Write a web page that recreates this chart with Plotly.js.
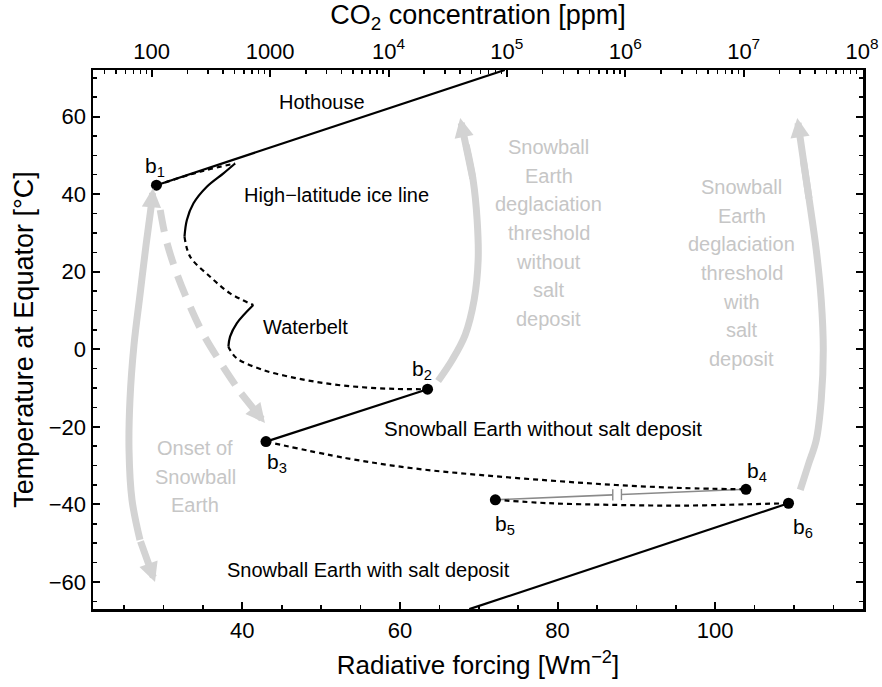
<!DOCTYPE html>
<html>
<head>
<meta charset="utf-8">
<script src="https://cdn.plot.ly/plotly-3.0.1.min.js"></script>
<style>html,body{margin:0;padding:0;background:#fff}</style>
</head>
<body>
<div id="chart" style="width:882px;height:687px"></div>
<script>
// ---- Data (radiative forcing [W m^-2], temperature at equator [°C]) ----
const hothouseF = [29.1, 73.3];
const hothouseT = [42.3, 72.0];

const iceUnstableF1 = [29.1, 34.65, 39.08];
const iceUnstableT1 = [42.3, 45.8, 47.9];

const iceLineF = [39.08, 37.6, 35.49, 33.8, 32.96, 32.66];
const iceLineT = [47.9, 45.36, 41.91, 37.63, 33.32, 29.02];

const iceUnstableF2 = [32.66, 33.38, 35.91, 38.44, 41.39];
const iceUnstableT2 = [29.02, 23.87, 18.71, 14.43, 11.42];

const waterbeltF = [41.39, 39.29, 38.44, 38.23];
const waterbeltT = [11.42, 6.70, 3.25, 0.67];

const waterbeltUnstableF = [38.23, 38.44, 39.29, 42.62, 46.89, 51.10, 55.28, 59.54, 63.5];
const waterbeltUnstableT = [0.67, -0.18, -2.32, -5.33, -7.47, -8.94, -9.79, -10.23, -10.3];

const snowballF = [43.0, 63.5];
const snowballT = [-23.8, -10.3];

const snowballUnstableF = [43.0, 53.22, 61.61, 70.09, 78.95, 87.39, 95.82, 103.9];
const snowballUnstableT = [-23.8, -28.09, -30.67, -32.40, -33.83, -34.99, -35.77, -36.1];

const saltUnstableF = [72.1, 78.95, 87.39, 95.82, 104.27, 109.3];
const saltUnstableT = [-38.8, -39.69, -40.13, -40.31, -39.95, -39.7];

const saltF = [109.3, 68.8];
const saltT = [-39.7, -67.0];

// bifurcation points b1..b6
const bNames = ['b<sub>1</sub>', 'b<sub>2</sub>', 'b<sub>3</sub>', 'b<sub>4</sub>', 'b<sub>5</sub>', 'b<sub>6</sub>'];
const bF = [29.1, 63.5, 43.0, 103.9, 72.1, 109.3];
const bT = [42.3, -10.3, -23.8, -36.1, -38.8, -39.7];

// grey connector b5 -> b4 with an axis-break mark
const greyF1 = [72.1, 87.0];
const greyT1 = [-38.8, -37.53];
const greyF2 = [88.1, 103.9];
const greyT2 = [-37.44, -36.1];
const breakF = [87.0, 87.0, null, 88.1, 88.1];
const breakT = [-36.1, -39.0, null, -36.0, -38.9];

// grey arrows (paths; tips given separately)
const onsetF = [28.54, 27.78, 27.01, 26.25, 25.74, 25.62, 26.00, 27.01];
const onsetT = [38.48, 26.88, 13.99, 1.11, -13.06, -25.95, -38.84, -49.15];
const onsetTipF = [28.66, 28.92];   // [top tip, bottom tip]
const onsetTipT = [41.57, -59.97];

const coolF = [29.58, 30.34, 31.61, 33.13, 34.90, 37.18, 39.71];
const coolT = [35.90, 28.17, 19.92, 12.19, 4.46, -3.27, -11.01];
const coolTip = [42.87, -19.0];

const deglacF = [64.84, 66.62, 68.27, 69.41, 69.92, 69.79, 69.28, 68.40];
const deglacT = [-8.16, -2.76, 3.69, 12.71, 23.02, 33.32, 43.63, 52.65];
const deglacTip = [67.64, 59.61];

const deglacSaltF = [110.79, 111.80, 112.82, 113.45, 113.71, 113.45, 112.82, 111.93, 111.17];
const deglacSaltT = [-36.26, -29.82, -23.38, -13.07, -0.18, 12.71, 25.59, 38.48, 48.79];
const deglacSaltTip = [110.41, 59.61];

// axis ticks
const xTicks = [40, 60, 80, 100];
const yTicks = [-60, -40, -20, 0, 20, 40, 60];
const co2Ticks = [1e2, 1e3, 1e4, 1e5, 1e6, 1e7, 1e8];
const co2Labels = ['100', '1000', '10<sup>4</sup>', '10<sup>5</sup>', '10<sup>6</sup>', '10<sup>7</sup>', '10<sup>8</sup>'];

// text labels
const grey1Lines = ['Snowball', 'Earth', 'deglaciation', 'threshold', 'without', 'salt', 'deposit'];
const grey2Lines = ['Snowball', 'Earth', 'deglaciation', 'threshold', 'with', 'salt', 'deposit'];
const grey3Lines = ['Onset of', 'Snowball', 'Earth'];

// ---- Styles ----
const BLACK = '#000000';
const ARROWGREY = '#d3d3d3';
const TEXTGREY = '#c6c6c6';
const FONT = 'Liberation Sans, Arial, Helvetica, sans-serif';

function line(x, y, opt) {
  return Object.assign({type: 'scatter', mode: 'lines', x: x, y: y, hoverinfo: 'skip',
    line: {color: BLACK, width: 2.2}}, opt || {});
}
const solid = {color: BLACK, width: 2.2};
const dashed = {color: BLACK, width: 2.2, dash: '5px,4px'};
const greyArrowLine = {color: ARROWGREY, width: 7, shape: 'spline'};
const sp = (o) => Object.assign({shape: 'spline'}, o);

const minorVals = [];
for (let e = 1; e < 8; e++) for (let d = 2; d <= 9; d++) minorVals.push(d * Math.pow(10, e));

const traces = [
  line(onsetF, onsetT, {line: greyArrowLine}),
  line(coolF, coolT, {line: {color: ARROWGREY, width: 7, dash: '22px,12px', shape: 'spline'}}),
  line(deglacF, deglacT, {line: greyArrowLine}),
  line(deglacSaltF, deglacSaltT, {line: greyArrowLine}),
  line(greyF1, greyT1, {line: {color: '#8a8a8a', width: 1.6}}),
  line(greyF2, greyT2, {line: {color: '#8a8a8a', width: 1.6}}),
  line(breakF, breakT, {line: {color: '#8a8a8a', width: 1.4}}),
  line(hothouseF, hothouseT, {line: solid}),
  line(iceUnstableF1, iceUnstableT1, {line: sp(dashed)}),
  line(iceLineF, iceLineT, {line: sp(solid)}),
  line(iceUnstableF2, iceUnstableT2, {line: sp(dashed)}),
  line(waterbeltF, waterbeltT, {line: sp(solid)}),
  line(waterbeltUnstableF, waterbeltUnstableT, {line: sp(dashed)}),
  line(snowballF, snowballT, {line: solid}),
  line(snowballUnstableF, snowballUnstableT, {line: sp(dashed)}),
  line(saltUnstableF, saltUnstableT, {line: sp(dashed)}),
  line(saltF, saltT, {line: solid}),
  {type: 'scatter', mode: 'markers', x: bF, y: bT, hoverinfo: 'skip',
   marker: {color: BLACK, size: 11}},
  // carrier trace for the top CO2 axis
  {type: 'scatter', mode: 'markers', x: [1e3], y: [0], xaxis: 'x2', yaxis: 'y',
   hoverinfo: 'skip', marker: {opacity: 0}}
];

const annotations = [];
function txt(x, y, text, size, color, extra) {
  annotations.push(Object.assign({x: x, y: y, xref: 'x', yref: 'y', text: text, showarrow: false,
    font: {family: FONT, size: size, color: color}, xanchor: 'center', yanchor: 'middle'}, extra || {}));
}
txt(50.1, 63.8, 'Hothouse', 20, BLACK);
txt(52.0, 39.8, 'High\u2212latitude ice line', 20, BLACK);
txt(47.96, 5.8, 'Waterbelt', 20, BLACK);
txt(78.2, -20.4, 'Snowball Earth without salt deposit', 20.5, BLACK);
txt(55.96, -56.9, 'Snowball Earth with salt deposit', 20, BLACK);

const bLabF = [28.92, 62.77, 44.37, 105.3, 73.35, 111.1];
const bLabT = [47.06, -5.34, -29.3, -31.55, -45.28, -46.06];
bNames.forEach((n, i) => txt(bLabF[i], bLabT[i], n, 21, BLACK));

function greyBlock(lines, x, yTopPx) {
  lines.forEach((s, i) => {
    const ypx = yTopPx + i * 28.7;
    const yv = (349.3 - ypx) / 3.88;
    txt(x, yv, s, 20, TEXTGREY);
  });
}
greyBlock(grey1Lines, 78.87, 147);
greyBlock(grey2Lines, 103.37, 187);
greyBlock(grey3Lines, 34.0, 448);

function arrowHead(tipF, tipT, fromF, fromT) {
  annotations.push({x: tipF, y: tipT, ax: fromF, ay: fromT, xref: 'x', yref: 'y', axref: 'x', ayref: 'y',
    text: '', showarrow: true, arrowhead: 2, arrowsize: 0.55, arrowwidth: 7, arrowcolor: ARROWGREY, standoff: 0});
}
arrowHead(onsetTipF[0], onsetTipT[0], onsetF[0], onsetT[0]);
arrowHead(onsetTipF[1], onsetTipT[1], onsetF[onsetF.length - 1], onsetT[onsetT.length - 1]);
arrowHead(coolTip[0], coolTip[1], coolF[coolF.length - 1], coolT[coolT.length - 1]);
arrowHead(deglacTip[0], deglacTip[1], deglacF[deglacF.length - 2], deglacT[deglacT.length - 2]);
arrowHead(deglacSaltTip[0], deglacSaltTip[1], deglacSaltF[deglacSaltF.length - 2], deglacSaltT[deglacSaltT.length - 2]);

const axisCommon = {
  showline: true, linecolor: BLACK, linewidth: 2.5, ticks: 'inside', ticklen: 7, tickwidth: 2,
  tickcolor: BLACK, showgrid: false, zeroline: false,
  tickfont: {family: FONT, size: 22, color: BLACK}
};

const layout = {
  width: 882, height: 687,
  margin: {l: 93, r: 19, t: 70, b: 78},
  paper_bgcolor: '#ffffff', plot_bgcolor: '#ffffff',
  showlegend: false,
  font: {family: FONT, color: BLACK},
  xaxis: Object.assign({}, axisCommon, {
    range: [21.05, 118.75], tickmode: 'array', tickvals: xTicks,
    minor: {ticks: 'inside', ticklen: 4, tickwidth: 1.5, tickcolor: BLACK, dtick: 5, tick0: 0},
    title: {text: 'Radiative forcing [Wm<sup>\u22122</sup>]', font: {family: FONT, size: 26, color: BLACK}, standoff: 14}
  }),
  xaxis2: Object.assign({}, axisCommon, {
    type: 'log', overlaying: 'x', side: 'top', anchor: 'y',
    range: [1.504, 8.008], tickmode: 'array', tickvals: co2Ticks, ticktext: co2Labels,
    minor: {ticks: 'inside', ticklen: 4, tickwidth: 1.5, tickcolor: BLACK, tickmode: 'array', tickvals: minorVals},
    title: {text: 'CO<sub>2</sub> concentration [ppm]', font: {family: FONT, size: 27, color: BLACK}, standoff: 6}
  }),
  yaxis: Object.assign({}, axisCommon, {
    range: [-66.96, 72.0], tickmode: 'array', tickvals: yTicks, mirror: 'ticks',
    minor: {ticks: 'inside', ticklen: 4, tickwidth: 1.5, tickcolor: BLACK, dtick: 5, tick0: 0},
    title: {text: 'Temperature at Equator [°C]', font: {family: FONT, size: 27, color: BLACK}, standoff: 8}
  }),
  annotations: annotations
};

Plotly.newPlot('chart', traces, layout, {displayModeBar: false, staticPlot: true});
</script>
</body>
</html>
